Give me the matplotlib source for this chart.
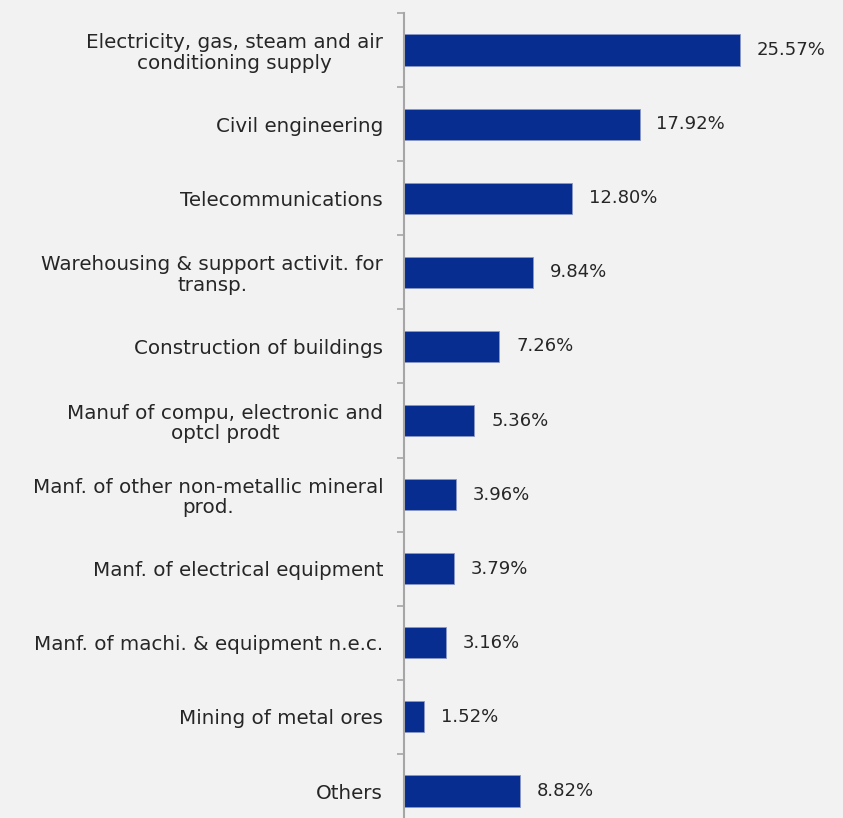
import matplotlib.pyplot as plt
import numpy as np

# sector shares, top to bottom
sectors = [
    "Electricity, gas, steam and air\nconditioning supply",
    "Civil engineering",
    "Telecommunications",
    "Warehousing & support activit. for\ntransp.",
    "Construction of buildings",
    "Manuf of compu, electronic and\noptcl prodt",
    "Manf. of other non-metallic mineral\nprod.",
    "Manf. of electrical equipment",
    "Manf. of machi. & equipment n.e.c.",
    "Mining of metal ores",
    "Others",
]
shares = [25.57, 17.92, 12.80, 9.84, 7.26, 5.36, 3.96, 3.79, 3.16, 1.52, 8.82]

bg = "#f2f2f2"
navy = "#062d8f"
grey = "#a6a6a6"
txt = "#262626"

plt.rcParams["font.family"] = ["DejaVu Sans"]

fig = plt.figure(figsize=(8.43, 8.18), dpi=100, facecolor=bg)
ax = fig.add_axes([404 / 843, 0, 1 - 404 / 843, 805 / 818])
ax.set_facecolor(bg)

y = np.arange(len(sectors))
ax.barh(y, shares, height=0.42, color=navy, edgecolor="#8a98c6", linewidth=0.6)

for yi, v in zip(y, shares):
    ax.annotate(f"{v:.2f}%", (v, yi), xytext=(12, 0), textcoords="offset points",
                va="center", ha="left", fontsize=13, color=txt)

ax.set_xlim(0, 33.4)
ax.set_ylim(10.364, -0.5)

ax.set_yticks(y)
ax.set_yticklabels(sectors, fontsize=14.3, color=txt, multialignment="center",
                   linespacing=1.1)
ax.set_yticks(np.arange(len(sectors)) - 0.5, minor=True)
ax.tick_params(axis="y", which="major", length=0, pad=15)
ax.tick_params(axis="y", which="minor", length=5, width=1.2, color=grey, direction="out")
ax.set_xticks([])

for s in ["top", "right", "bottom"]:
    ax.spines[s].set_visible(False)
ax.spines["left"].set_color(grey)
ax.spines["left"].set_linewidth(1.5)

fig.savefig("out.png", dpi=100, facecolor=bg)
